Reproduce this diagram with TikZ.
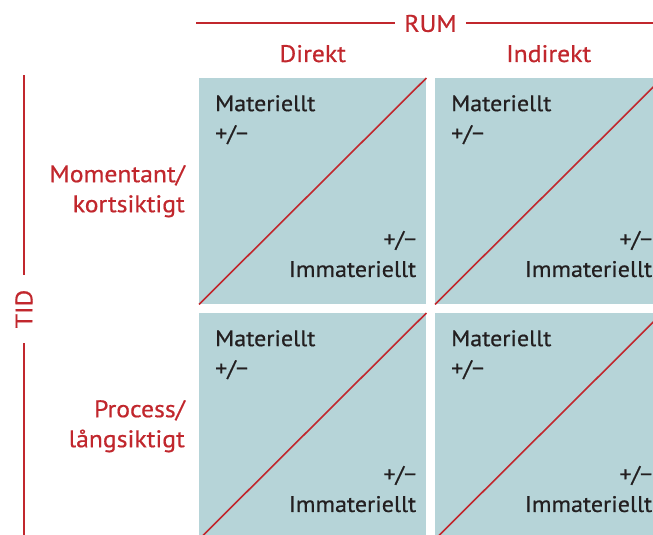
\documentclass[tikz,border=0pt]{standalone}
\usepackage{fontspec}
\setmainfont[FakeStretch=1.07,FakeBold=0.6]{PT Sans}
\usepackage{tikz}
\definecolor{rumred}{HTML}{C1272D}
\definecolor{cellblue}{HTML}{B6D4D8}
\definecolor{cellink}{HTML}{231F20}

\begin{document}
\begin{tikzpicture}[x=1pt,y=-1pt,
every node/.style={inner sep=0pt},
cell/.style={fill=cellblue,minimum width=227pt,minimum height=226pt,anchor=north west},
axis/.style={draw=rumred,line width=2pt},
diag/.style={draw=rumred,line width=1.6pt},
head/.style={text=rumred,font=\fontsize{24}{30}\selectfont},
celltext/.style={text=cellink,font=\fontsize{22.5}{30}\selectfont}]
\clip (0,0) rectangle (653,535);

% cells with their diagonal and the two texts
\foreach \r/\y in {1/78,2/313}{
  \foreach \c/\x in {1/199,2/435}{
    \node[cell] (b\r\c) at (\x,\y) {};
    \draw[diag] (b\r\c.south west) -- (b\r\c.north east);
    \node[celltext,align=left,anchor=north west] (m\r\c) at ([shift={(16,17)}]b\r\c.north west) {Materiellt\\+/−};
    \node[celltext,align=right,anchor=south east] (i\r\c) at ([shift={(-10,-27)}]b\r\c.south east) {+/−\\Immateriellt};
  }
}

% column heads
\node[head,anchor=base] (direkt) at ([shift={(0,-16)}]b11.north) {Direkt};
\node[head,anchor=base] (indirekt) at ([shift={(0,-16)}]b12.north) {Indirekt};

% row heads
\node[head,align=right,anchor=east] (moment) at ([shift={(-14,0)}]b11.west) {Momentant/\\kortsiktigt};
\node[head,align=right,anchor=east] (process) at ([shift={(-14,0)}]b21.west) {Process/\\långsiktigt};

% RUM axis
\node[head,inner xsep=9pt] (rum) at (430.5,23.5) {RUM};
\coordinate (rumL) at (196,23.5);
\coordinate (rumR) at (662,23.5);
\draw[axis] (rumL) -- (rum.west);
\draw[axis] (rum.east) -- (rumR);

% TID axis
\node[head,inner xsep=15pt,rotate=90] (tid) at (24,309) {TID};
\coordinate (tidT) at (24,75);
\coordinate (tidB) at (24,540);
\draw[axis] (tidT) -- (tid.east);
\draw[axis] (tid.west) -- (tidB);
\end{tikzpicture}
\end{document}
